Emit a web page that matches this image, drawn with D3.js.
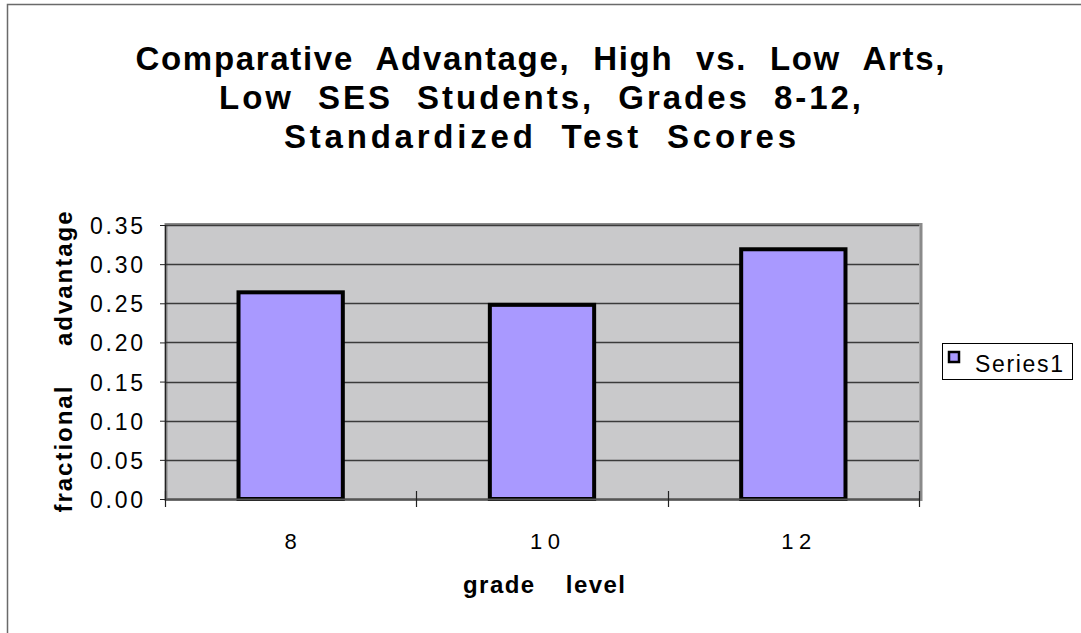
<!DOCTYPE html>
<html>
<head>
<meta charset="utf-8">
<script src="https://cdn.jsdelivr.net/npm/d3@7"></script>
<style>
  html, body { margin: 0; padding: 0; background: #fff; }
  svg { display: block; }
  text { font-family: "Liberation Sans", Arial, sans-serif; fill: #000; }
</style>
</head>
<body>
<svg id="chart" width="1081" height="633"></svg>
<script>
// ---- data ----
const categories = ["8", "10", "12"];
const seriesName = "Series1";
const values = [0.264, 0.248, 0.319];
const yTicks = [0, 0.05, 0.10, 0.15, 0.20, 0.25, 0.30, 0.35];
const titleLines = [
  "Comparative Advantage, High vs. Low Arts,",
  "Low SES Students, Grades 8-12,",
  "Standardized Test Scores"
];
const yTitle = "fractional advantage";
const xTitle = "grade level";

// ---- layout ----
const svg = d3.select("#chart");
const plot = { left: 165, right: 919, top: 225, bottom: 499 };

svg.append("rect")
  .attr("x", 7.5).attr("y", 4.5).attr("width", 1200).attr("height", 800)
  .attr("fill", "#fff").attr("stroke", "#6a6a6a").attr("stroke-width", 1.5);

const x = d3.scaleBand().domain(categories).range([plot.left, plot.right]).padding(0);
const y = d3.scaleLinear().domain([0, 0.35]).range([plot.bottom, plot.top]);
const barW = x.bandwidth() * 0.415;

function fit(sel, w) {
  sel.attr("textLength", w).attr("lengthAdjust", "spacing");
  return sel;
}

// plot area
svg.append("rect")
  .attr("x", plot.left + 1).attr("y", plot.top - 0.5)
  .attr("width", plot.right - plot.left + 1).attr("height", plot.bottom - plot.top + 1)
  .attr("fill", "#c9c9cb").attr("stroke", "#8a8a8a").attr("stroke-width", 3);

// gridlines
svg.append("g").selectAll("line")
  .data(yTicks.filter(d => d > 0))
  .join("line")
  .attr("x1", plot.left).attr("x2", plot.right)
  .attr("y1", d => Math.round(y(d)) + 0.5).attr("y2", d => Math.round(y(d)) + 0.5)
  .attr("stroke", "#3a3a3a").attr("stroke-width", 1.3);

// bars
svg.append("g").selectAll("rect")
  .data(values)
  .join("rect")
  .attr("x", (d, i) => x(categories[i]) + (x.bandwidth() - barW) / 2)
  .attr("y", d => y(d))
  .attr("width", barW)
  .attr("height", d => y(0) - y(d))
  .attr("fill", "#a999ff")
  .attr("stroke", "#000")
  .attr("stroke-width", 4);

// y axis
const yAxis = d3.axisLeft(y).tickValues(yTicks).tickSize(5).tickPadding(0).tickFormat(d3.format(".2f"));
const gy = svg.append("g").attr("transform", `translate(${plot.left},0)`).call(yAxis);
gy.select(".domain").attr("stroke", "#222").attr("stroke-width", 1.2);
gy.selectAll(".tick line").attr("stroke", "#222");
gy.selectAll(".tick text")
  .attr("x", -22).attr("dy", null).attr("y", 8.5)
  .attr("font-size", 23).attr("font-family", "Liberation Sans, Arial, sans-serif")
  .attr("text-anchor", "end").attr("fill", "#000")
  .call(s => fit(s, 53));

// x axis
const xAxis = d3.axisBottom(x).tickSize(0).tickPadding(0);
const gx = svg.append("g").attr("transform", `translate(0,${plot.bottom})`).call(xAxis);
gx.select(".domain").attr("stroke", "#555").attr("stroke-width", 2);
gx.selectAll(".tick text")
  .attr("y", 49.5).attr("dy", null).attr("dx", d => d.length > 1 ? 3 : 0)
  .attr("font-size", 22).attr("font-family", "Liberation Sans, Arial, sans-serif")
  .attr("fill", "#000")
  .each(function (d) { if (d.length > 1) fit(d3.select(this), 30); });
const sepTicks = categories.map(c => x(c)).concat([x(categories[categories.length - 1]) + x.bandwidth()]);
svg.append("g").selectAll("line")
  .data(sepTicks)
  .join("line")
  .attr("x1", d => Math.round(d) + 0.5).attr("x2", d => Math.round(d) + 0.5)
  .attr("y1", plot.bottom - 8).attr("y2", plot.bottom + 8)
  .attr("stroke", "#222").attr("stroke-width", 1.2);

// title
const titleBase = [70, 109, 148];
const titleWidths = [809, 642, 512];
svg.append("g").selectAll("text")
  .data(titleLines)
  .join("text")
  .attr("x", 540).attr("y", (d, i) => titleBase[i])
  .attr("text-anchor", "middle")
  .attr("font-size", 33).attr("font-weight", "bold")
  .attr("word-spacing", 12)
  .text(d => d)
  .each(function (d, i) { fit(d3.select(this), titleWidths[i]); });

// y title
svg.append("text")
  .attr("transform", "translate(72,362) rotate(-90)")
  .attr("text-anchor", "middle")
  .attr("font-size", 24).attr("font-weight", "bold")
  .attr("word-spacing", 30)
  .text(yTitle)
  .call(s => fit(s, 301));

// x title
svg.append("text")
  .attr("x", 544).attr("y", 593)
  .attr("text-anchor", "middle")
  .attr("font-size", 24).attr("font-weight", "bold")
  .attr("word-spacing", 22)
  .text(xTitle)
  .call(s => fit(s, 162));

// legend
const lg = svg.append("g");
lg.append("rect").attr("x", 942.5).attr("y", 343.5).attr("width", 130).attr("height", 36)
  .attr("fill", "#fff").attr("stroke", "#000").attr("stroke-width", 1);
lg.append("rect").attr("x", 949).attr("y", 352).attr("width", 10).attr("height", 10)
  .attr("fill", "#a999ff").attr("stroke", "#000").attr("stroke-width", 2.5);
lg.append("text").attr("x", 975).attr("y", 372)
  .attr("font-size", 23)
  .text(seriesName)
  .call(s => fit(s, 88));
</script>
</body>
</html>
